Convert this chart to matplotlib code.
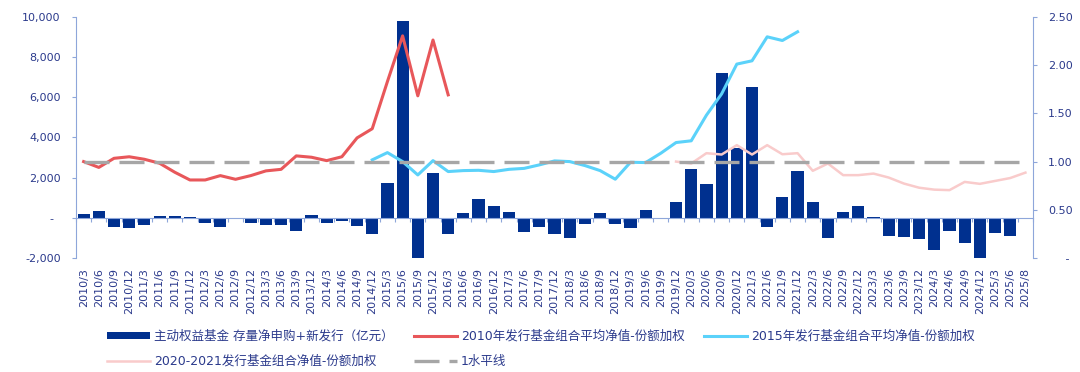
import numpy as np
import matplotlib
matplotlib.use("Agg")
import matplotlib.pyplot as plt
from matplotlib.ticker import FuncFormatter

plt.rcParams['font.family'] = ['DejaVu Sans', 'Noto Sans CJK SC']
plt.rcParams['axes.unicode_minus'] = False

# ---------------- data ----------------
labels = [f"{y}/{m}" for y in range(2010, 2026) for m in (3, 6, 9, 12)
          if not (y == 2025 and m > 6)] + ["2025/8"]

flows = [200, 350, -430, -510, -330, 100, 100, 70, -260, -450, -10, -250,
         -330, -350, -640, 170, -260, -150, -400, -810, 1720, 9790, -2150, 2210,
         -810, 230, 940, 600, 280, -680, -450, -780, -990, -300, 250, -310,
         -480, 380, -50, 790, 2420, 1690, 7200, 3450, 6480, -450, 1020, 2350,
         790, -980, 280, 600, 50, -880, -930, -1040, -1570, -630, -1240, -2150,
         -740, -910, np.nan]

nav_2010 = [1.00, 0.94, 1.034, 1.05, 1.024, 0.983, 0.89, 0.81, 0.81, 0.855, 0.817, 0.855,
            0.904, 0.92, 1.059, 1.045, 1.01, 1.05, 1.245, 1.34, 1.828, 2.30, 1.68, 2.257, 1.69]
start_2010 = 0

nav_2015 = [1.018, 1.093, 1.00, 0.862, 1.01, 0.897, 0.907, 0.91, 0.897, 0.92, 0.93, 0.966,
            1.007, 1.00, 0.959, 0.907, 0.818, 0.993, 0.99, 1.087, 1.197, 1.215, 1.48, 1.70,
            2.008, 2.042, 2.29, 2.252, 2.342]
start_2015 = 19

nav_2020 = [1.00, 0.98, 1.087, 1.073, 1.17, 1.073, 1.17, 1.076, 1.087, 0.905, 0.98, 0.86,
            0.86, 0.876, 0.835, 0.773, 0.73, 0.71, 0.705, 0.79, 0.77, 0.80, 0.83, 0.886]
start_2020 = 39

baseline = 1.0

legend_labels = ["主动权益基金 存量净申购+新发行（亿元）",
                 "2010年发行基金组合平均净值-份额加权",
                 "2015年发行基金组合平均净值-份额加权",
                 "2020-2021发行基金组合净值-份额加权",
                 "1水平线"]

# ---------------- style ----------------
navy = '#00308F'
red = '#E8575A'
cyan = '#5BD2FA'
pink = '#F9CBCB'
gray = '#A6A6A6'
txt = '#2B3A8C'
spine_c = '#8EA6DA'
NB = '\u00a0'

fig = plt.figure(figsize=(10.8, 3.72), dpi=100)
ax = fig.add_axes([0.0704, 0.3056, 0.8861, 0.65])

x = np.arange(len(labels))
bars = ax.bar(x, flows, width=0.8, color=navy, zorder=2)
ax.set_xlim(-0.5, len(labels) - 0.5)
ax.set_ylim(-2000, 10000)
ax.set_yticks(np.arange(-2000, 10001, 2000))
ax.yaxis.set_major_formatter(FuncFormatter(lambda v, p: '-' + NB * 2 if v == 0 else f'{v:,.0f}'))
ax.tick_params(axis='y', direction='out', length=3, color=spine_c, pad=8,
               labelsize=8, labelcolor=txt)
for s in ('top', 'right'):
    ax.spines[s].set_visible(False)
ax.spines['left'].set_color(spine_c)
ax.spines['bottom'].set_color(spine_c)
ax.spines['bottom'].set_position(('data', 0))
ax.set_xticks(np.arange(len(labels) + 1) - 0.5)
ax.tick_params(axis='x', direction='out', length=3, color=spine_c, labelbottom=False)

sec = ax.secondary_xaxis('bottom')
sec.set_xticks(x, labels, rotation=90)
sec.tick_params(length=0, pad=7, labelsize=8, labelcolor=txt)
sec.spines['bottom'].set_visible(False)

ax2 = ax.twinx()
ax2.set_ylim(0, 2.5)
ax2.set_yticks(np.arange(0, 2.51, 0.5))
ax2.yaxis.set_major_formatter(FuncFormatter(lambda v, p: NB * 5 + '-' if v == 0 else f'{v:.2f}'))
ax2.tick_params(axis='y', direction='out', length=3, color=spine_c, pad=8,
                labelsize=8, labelcolor=txt)
for s in ('top', 'left', 'bottom'):
    ax2.spines[s].set_visible(False)
ax2.spines['right'].set_color(spine_c)

l2010, = ax2.plot(x[start_2010:start_2010 + len(nav_2010)], nav_2010, color=red, lw=2.2,
                  solid_joinstyle='round')
l2015, = ax2.plot(x[start_2015:start_2015 + len(nav_2015)], nav_2015, color=cyan, lw=2.2,
                  solid_joinstyle='round')
l2020, = ax2.plot(x[start_2020:start_2020 + len(nav_2020)], nav_2020, color=pink, lw=1.8,
                  solid_joinstyle='round')
lbase, = ax2.plot(x, [baseline] * len(x), color=gray, lw=2.4, dashes=(7.5, 3))

handles = [bars, l2020, l2010, lbase, l2015]
hlabels = [legend_labels[0], legend_labels[3], legend_labels[1], legend_labels[4], legend_labels[2]]
fig.legend(handles, hlabels, ncol=3, loc='center left', bbox_to_anchor=(0.0991, 0.062),
           frameon=False, prop={'size': 9}, handlelength=3.44, handleheight=0.5,
           handletextpad=0.32, columnspacing=1.6, labelspacing=0.95, labelcolor=txt,
           borderpad=0, borderaxespad=0)

fig.savefig('out.png', dpi=100)
